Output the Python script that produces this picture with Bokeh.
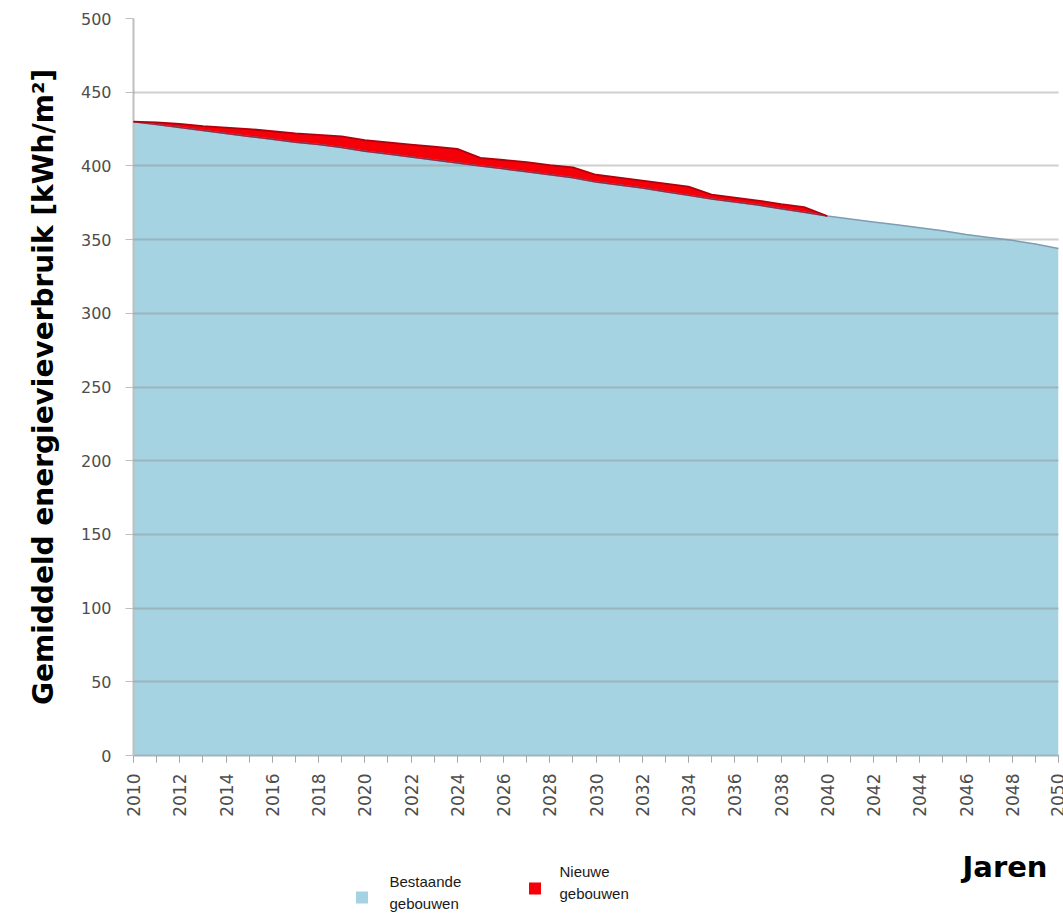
import math

from bokeh.core.properties import value
from bokeh.embed import file_html
from bokeh.layouts import column
from bokeh.models import ColumnDataSource, FixedTicker, Range1d, SingleIntervalTicker
from bokeh.plotting import figure
from bokeh.resources import INLINE

# Average energy use per year, split into existing and new buildings (kWh/m²)
jaren = list(range(2010, 2051))
bestaande = [430, 428, 426, 424, 422, 420, 418, 416, 414.5, 412.5,
             410, 408, 406, 404, 402, 400, 398, 396, 394, 392,
             389, 387, 385, 382.5, 380, 377.5, 375.5, 373.5, 371, 368.5,
             366, 364, 362, 360, 358, 356, 353.5, 351.5, 349.5, 347,
             344]
nieuwe = [0, 1.5, 2.5, 3, 4, 5, 5.5, 6, 6.5, 7.5,
          7.5, 8, 8.5, 9, 9.5, 5.5, 6, 6.5, 6.5, 7,
          5, 5, 5, 5.5, 6, 3, 3, 3, 3, 3.5,
          0, 0, 0, 0, 0, 0, 0, 0, 0, 0,
          0]
y_ticks = [0, 50, 100, 150, 200, 250, 300, 350, 400, 450, 500]
x_titel = "Jaren"
y_titel = "Gemiddeld energievieverbruik [kWh/m²]"
legenda = [("Bestaande", "gebouwen"), ("Nieuwe", "gebouwen")]

BLAUW = "#A5D3E1"
BLAUW_RAND = "#7D9DB3"
ROOD = "#F50008"
ROOD_RAND = "#B3000C"
GRIJS = "#4D4D4D"

totaal = [b + n for b, n in zip(bestaande, nieuwe)]
bron = ColumnDataSource(dict(jaar=jaren, nul=[0] * len(jaren),
                             bestaande=bestaande, totaal=totaal))

# red outline only over the years that have new buildings
laatste = max(i for i, n in enumerate(nieuwe) if n > 0) + 1
bron_rood = ColumnDataSource(dict(jaar=jaren[:laatste + 1],
                                  bestaande=bestaande[:laatste + 1],
                                  totaal=totaal[:laatste + 1]))

p = figure(width=1063, height=830,
           x_range=Range1d(2010, 2050), y_range=Range1d(0, 500),
           output_backend="svg", toolbar_location=None,
           min_border_left=133, min_border_right=5,
           min_border_top=18, min_border_bottom=75)
p.outline_line_color = None
p.background_fill_color = "white"

p.varea(x="jaar", y1="nul", y2="bestaande", source=bron, fill_color=BLAUW)
rood = p.varea(x="jaar", y1="bestaande", y2="totaal", source=bron, fill_color=ROOD)
blauw_lijn = p.line(x="jaar", y="bestaande", source=bron,
                    line_color=BLAUW_RAND, line_width=1.5)
rood_onder = p.line(x="jaar", y="bestaande", source=bron_rood,
                    line_color="#9A1030", line_width=1.5, line_alpha=0.8)
rood_boven = p.line(x="jaar", y="totaal", source=bron_rood,
                    line_color=ROOD_RAND, line_width=1.8)
for r in (rood, blauw_lijn, rood_onder, rood_boven):
    r.level = "annotation"

# horizontal gridlines, drawn over the blue area
p.xgrid.visible = False
p.ygrid.ticker = FixedTicker(ticks=y_ticks)
p.ygrid.level = "guide"
p.ygrid.grid_line_color = "#8C8C8C"
p.ygrid.grid_line_alpha = 0.42
p.ygrid.grid_line_width = 2

# y axis
p.yaxis.ticker = FixedTicker(ticks=y_ticks)
p.yaxis.axis_line_color = "#BFBFBF"
p.yaxis.axis_line_width = 2
p.yaxis.major_tick_line_color = "#BFBFBF"
p.yaxis.major_tick_out = 8
p.yaxis.major_tick_in = 0
p.yaxis.minor_tick_line_color = None
p.yaxis.major_label_standoff = 14
p.yaxis.major_label_text_font = "DejaVu Sans"
p.yaxis.major_label_text_font_size = "16px"
p.yaxis.major_label_text_color = GRIJS
p.yaxis.axis_label = y_titel
p.yaxis.axis_label_text_font = "DejaVu Sans"
p.yaxis.axis_label_text_font_style = "bold"
p.yaxis.axis_label_text_font_size = "28px"
p.yaxis.axis_label_text_color = "black"
p.yaxis.axis_label_standoff = 18

# x axis
p.xaxis.ticker = SingleIntervalTicker(interval=2, num_minor_ticks=2)
p.xaxis.axis_line_color = "#9FB4BE"
p.xaxis.axis_line_width = 2
p.xaxis.major_tick_line_color = "#A6A6A6"
p.xaxis.minor_tick_line_color = "#A6A6A6"
p.xaxis.major_tick_out = 7
p.xaxis.major_tick_in = 0
p.xaxis.minor_tick_out = 7
p.xaxis.minor_tick_in = 0
p.xaxis.major_label_orientation = math.pi / 2
p.xaxis.major_label_standoff = 11
p.xaxis.major_label_text_font = "DejaVu Sans"
p.xaxis.major_label_text_font_size = "17px"
p.xaxis.major_label_text_color = GRIJS

# legend strip and axis title underneath; its frame lines up with the
# chart frame above, so the x range is given in page pixels of that frame
q = figure(width=1063, height=93,
           x_range=Range1d(133, 1058), y_range=Range1d(93, 0),
           x_axis_type=None, y_axis_type=None,
           output_backend="svg", toolbar_location=None, min_border=0)
q.outline_line_color = None
q.grid.visible = False

q.scatter(x=[361.5, 534.5], y=[67, 58], marker="square", size=12,
          fill_color=[BLAUW, ROOD], line_color=None)
q.text(x=[389, 389, 559, 559], y=[51, 73, 41, 63],
       text=[legenda[0][0], legenda[0][1], legenda[1][0], legenda[1][1]],
       text_font=value("Liberation Sans"), text_font_size="15px",
       text_baseline="middle", text_color="#1A1A1A")
q.text(x=[1047], y=[36], text=[x_titel], text_align="right",
       text_baseline="middle", text_font=value("DejaVu Sans"),
       text_font_style="bold", text_font_size="29px", text_color="black")

layout = column(p, q, spacing=0)
open("out.html", "w").write(file_html(layout, INLINE))
